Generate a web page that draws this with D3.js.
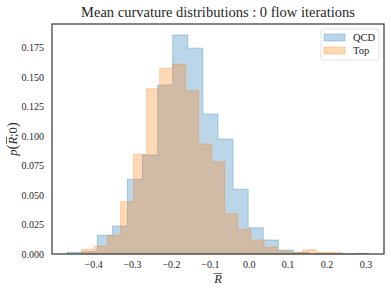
<!DOCTYPE html>
<html>
<head>
<meta charset="utf-8">
<script src="https://cdn.jsdelivr.net/npm/d3@7"></script>
<style>
  body { margin: 0; background: #fff; }
  svg { display: block; font-family: "Liberation Serif", "DejaVu Serif", serif; }
</style>
</head>
<body>
<div id="chart"></div>
<script>
// histogram bin ranges (20 bins each) and bin heights
const qcdRange = [-0.467, 0.309];
const topRange = [-0.430, 0.240];
const qcdValues = [0.0014, 0.0020, 0.0159, 0.0237, 0.0634, 0.0840, 0.1433, 0.1857, 0.1745, 0.1187,
                   0.0975, 0.0549, 0.0223, 0.0119, 0.0034, 0.0014, 0, 0, 0, 0.0006];
const topValues = [0.0040, 0.0068, 0.0160, 0.0444, 0.0846, 0.1400, 0.1575, 0.1610, 0.1385, 0.0933,
                   0.0783, 0.0342, 0.0210, 0.0119, 0.0060, 0.0025, 0.0012, 0.0037, 0.0014, 0.0014];
const seriesNames = ["QCD", "Top"];
const seriesColors = ["#1f77b4", "#ff7f0e"];
const xTicks = [-0.4, -0.3, -0.2, -0.1, 0.0, 0.1, 0.2, 0.3];
const yTicks = [0, 0.025, 0.05, 0.075, 0.1, 0.125, 0.15, 0.175];
const title = "Mean curvature distributions : 0 flow iterations";

const width = 391, height = 291;
const margin = { top: 24, right: 7, bottom: 37, left: 52 };

const svg = d3.select("#chart").append("svg")
   .attr("width", width)
   .attr("height", height);

const lo = Math.min(qcdRange[0], topRange[0]);
const hi = Math.max(qcdRange[1], topRange[1]);
const pad = (hi - lo) * 0.05;

const x = d3.scaleLinear()
   .domain([lo - pad, hi + pad])
   .range([margin.left, width - margin.right]);

const yMax = d3.max(qcdValues.concat(topValues)) * 1.05;
const y = d3.scaleLinear()
   .domain([0, yMax])
   .range([height - margin.bottom, margin.top]);

// stepfilled outline for a histogram
function stepPath(range, values) {
   const w = (range[1] - range[0]) / values.length;
   const pts = [[x(range[0]), y(0)]];
   values.forEach((v, i) => {
      pts.push([x(range[0] + w * i), y(v)]);
      pts.push([x(range[0] + w * (i + 1)), y(v)]);
   });
   pts.push([x(range[1]), y(0)]);
   return d3.line()(pts) + "Z";
}

const hists = [[qcdRange, qcdValues], [topRange, topValues]];
svg.append("g")
   .selectAll("path")
   .data(hists)
   .join("path")
   .attr("d", d => stepPath(d[0], d[1]))
   .attr("fill", (d, i) => seriesColors[i])
   .attr("fill-opacity", 0.3)
   .attr("stroke", (d, i) => seriesColors[i])
   .attr("stroke-opacity", 0.3)
   .attr("stroke-width", 1);

// axes (no tick marks, seaborn white style)
const fmt = d3.format(".1f");
svg.append("g")
   .attr("transform", `translate(0,${height - margin.bottom})`)
   .style("font-family", "Liberation Serif, serif")
   .style("font-size", "10px")
   .call(d3.axisBottom(x).tickValues(xTicks).tickSize(0).tickPadding(7)
      .tickFormat(d => fmt(d).replace("-", "\u2212")))
   .call(g => g.select(".domain").remove())
   .call(g => g.selectAll("text").attr("fill", "#262626"));

svg.append("g")
   .attr("transform", `translate(${margin.left},0)`)
   .style("font-family", "Liberation Serif, serif")
   .style("font-size", "10px")
   .call(d3.axisLeft(y).tickValues(yTicks).tickSize(0).tickPadding(8)
      .tickFormat(d3.format(".3f")))
   .call(g => g.select(".domain").remove())
   .call(g => g.selectAll("text").attr("fill", "#262626"));

// frame
svg.append("rect")
   .attr("x", margin.left)
   .attr("y", margin.top)
   .attr("width", width - margin.left - margin.right)
   .attr("height", height - margin.top - margin.bottom)
   .attr("fill", "none")
   .attr("stroke", "#444")
   .attr("stroke-width", 1.3);

// title
svg.append("text")
   .attr("x", (margin.left + width - margin.right) / 2)
   .attr("y", 17)
   .attr("text-anchor", "middle")
   .attr("font-size", "14.5px")
   .attr("fill", "#262626")
   .text(title);

// x label
const xl = svg.append("text")
   .attr("x", (margin.left + width - margin.right) / 2)
   .attr("y", 283)
   .attr("text-anchor", "middle")
   .attr("font-size", "12.5px")
   .attr("font-style", "italic")
   .attr("fill", "#262626")
   .text("R");
const xb = xl.node().getBBox();
svg.append("line")
   .attr("x1", xb.x + 0.5).attr("x2", xb.x + xb.width)
   .attr("y1", xb.y + 1.5).attr("y2", xb.y + 1.5)
   .attr("stroke", "#262626").attr("stroke-width", 0.7);

// y label
const yl = svg.append("g")
   .attr("transform", `translate(17,${(margin.top + height - margin.bottom) / 2}) rotate(-90)`);
const ylt = yl.append("text")
   .attr("text-anchor", "middle")
   .attr("font-size", "12.5px")
   .attr("fill", "#262626");
ylt.append("tspan").attr("font-style", "italic").text("p");
ylt.append("tspan").attr("font-size", "15px").text("(");
const rs = ylt.append("tspan").attr("font-style", "italic").text("R");
ylt.append("tspan").text(";0");
ylt.append("tspan").attr("font-size", "15px").text(")");
const rsLen = rs.node().getComputedTextLength();
const rsStart = rs.node().getStartPositionOfChar(0);
yl.append("line")
   .attr("x1", rsStart.x + 0.5).attr("x2", rsStart.x + rsLen)
   .attr("y1", -10.5).attr("y2", -10.5)
   .attr("stroke", "#262626").attr("stroke-width", 0.7);

// legend
const lg = svg.append("g").attr("transform", "translate(321,29)");
lg.append("rect")
   .attr("width", 58).attr("height", 31).attr("rx", 2)
   .attr("fill", "#fff").attr("fill-opacity", 0.8)
   .attr("stroke", "#d9d9d9").attr("stroke-width", 0.8);
seriesNames.forEach((name, i) => {
   const row = lg.append("g").attr("transform", `translate(3,${5 + i * 13})`);
   row.append("rect")
      .attr("width", 21).attr("height", 7)
      .attr("fill", seriesColors[i]).attr("fill-opacity", 0.3)
      .attr("stroke", seriesColors[i]).attr("stroke-opacity", 0.3);
   row.append("text")
      .attr("x", 29).attr("y", 7)
      .attr("font-size", "10.5px")
      .attr("fill", "#262626")
      .text(name);
});
</script>
</body>
</html>
